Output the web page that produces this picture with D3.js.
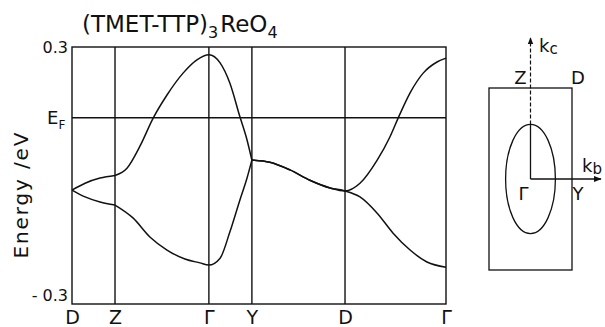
<!DOCTYPE html>
<html><head><meta charset="utf-8">
<script src="https://cdn.jsdelivr.net/npm/d3@7"></script>
<style>
body{margin:0;background:#fff;}
svg text{font-family:"DejaVu Sans",sans-serif;fill:#111;}
</style></head><body>
<svg id="c" width="605" height="327"></svg>
<script>
// ---- data ----
const kLabels = ["D", "Z", "Γ", "Y", "D", "Γ"];
const kPoints = [0, 0.115, 0.366, 0.481, 0.730, 1.0];
const yTicks = [0.3, -0.3];
const yTickLabels = ["0.3", "- 0.3"];
const fermiEnergy = 0.135;

const band1K = [0, 0.035, 0.075, 0.115, 0.147, 0.182, 0.217, 0.254, 0.297, 0.334, 0.366,
  0.396, 0.422, 0.449, 0.468, 0.481,
  0.529, 0.583, 0.636, 0.690, 0.730,
  0.770, 0.816, 0.850, 0.872, 0.904, 0.939, 0.976, 1.0];
const band1E = [-0.034, -0.018, -0.006, 0.000, 0.017, 0.069, 0.134, 0.188, 0.239, 0.270, 0.282,
  0.263, 0.216, 0.137, 0.083, 0.036,
  0.031, 0.013, -0.011, -0.029, -0.036,
  -0.018, 0.036, 0.090, 0.134, 0.193, 0.239, 0.265, 0.274];

const band2K = [0, 0.035, 0.075, 0.115, 0.163, 0.209, 0.254, 0.302, 0.342, 0.366,
  0.396, 0.422, 0.449, 0.468, 0.481,
  0.529, 0.583, 0.636, 0.690, 0.730,
  0.770, 0.816, 0.858, 0.904, 0.949, 1.0];
const band2E = [-0.034, -0.050, -0.062, -0.069, -0.099, -0.144, -0.174, -0.195, -0.204, -0.209,
  -0.193, -0.132, -0.057, -0.006, 0.036,
  0.031, 0.013, -0.011, -0.029, -0.036,
  -0.050, -0.088, -0.134, -0.174, -0.202, -0.214];

// inset: Brillouin zone (units of b*, c*) and Fermi surface semi-axes
const bzB = [-0.5, 0.5];
const bzC = [-0.5, 0.5];
const fsRadiusB = 0.30;
const fsRadiusC = 0.30;
const insetLabels = ["Z", "D", "Γ", "Y"];

// ---- layout ----
const svg = d3.select("#c");
const L = 72, R = 446, T = 47, B = 304;
const x = d3.scaleLinear().domain([0, 1]).range([L, R]);
const y = d3.scaleLinear().domain([-0.3, 0.3]).range([B, T]);
const sw = 1.4;

// frame
svg.append("rect").attr("x", L).attr("y", T).attr("width", R - L).attr("height", B - T)
  .attr("fill", "none").attr("stroke", "#111").attr("stroke-width", sw);

// vertical high-symmetry lines
svg.selectAll("line.v").data(kPoints.slice(1, -1)).join("line")
  .attr("x1", d => x(d)).attr("x2", d => x(d)).attr("y1", T).attr("y2", B)
  .attr("stroke", "#111").attr("stroke-width", sw);

// Fermi level
svg.append("line").attr("x1", L).attr("x2", R).attr("y1", y(fermiEnergy)).attr("y2", y(fermiEnergy))
  .attr("stroke", "#111").attr("stroke-width", sw);

// bands, drawn piecewise between kinks (Z and Y)
const breaks = [kPoints[0], kPoints[1], kPoints[3], kPoints[5]];
const line = d3.line().x(d => x(d[0])).y(d => y(d[1])).curve(d3.curveMonotoneX);
[[band1K, band1E], [band2K, band2E]].forEach(([ks, es]) => {
  const pts = ks.map((k, i) => [k, es[i]]);
  for (let i = 0; i < breaks.length - 1; i++) {
    const seg = pts.filter(p => p[0] >= breaks[i] - 1e-6 && p[0] <= breaks[i + 1] + 1e-6);
    svg.append("path").attr("d", line(seg)).attr("fill", "none")
      .attr("stroke", "#111").attr("stroke-width", 1.5);
  }
});

// x axis labels
const xAxis = d3.axisBottom(x).tickValues(kPoints).tickFormat((d, i) => kLabels[i]).tickSize(0).tickPadding(0);
const gx = svg.append("g").attr("transform", `translate(0,${B})`).call(xAxis);
gx.select(".domain").remove();
gx.selectAll("text").attr("font-size", 19).attr("dy", null).attr("y", 20)
  .style("font-family", '"DejaVu Sans",sans-serif').attr("fill", "#111");

// y axis labels
const yAxis = d3.axisLeft(y).tickValues(yTicks).tickFormat((d, i) => yTickLabels[i]).tickSize(0).tickPadding(4);
const gy = svg.append("g").attr("transform", `translate(${L},0)`).call(yAxis);
gy.select(".domain").remove();
gy.selectAll("text").attr("font-size", 16).style("font-family", '"DejaVu Sans",sans-serif').attr("fill", "#111")
  .attr("dy", d => d < 0 ? "-0.25em" : "0.35em");

// E_F label
const ef = svg.append("text").attr("x", 47).attr("y", y(fermiEnergy) + 6).attr("font-size", 18);
ef.append("tspan").text("E");
ef.append("tspan").attr("font-size", 12).attr("dy", 5).text("F");

// y axis title
svg.append("text").attr("transform", `translate(28,${(T + B) / 2 + 20}) rotate(-90)`)
  .attr("text-anchor", "middle").attr("font-size", 20).attr("textLength", 126).attr("lengthAdjust", "spacing")
  .text("Energy /eV");

// title
const tt = svg.append("text").attr("x", 82).attr("y", 32).attr("font-size", 23);
tt.append("tspan").text("(TMET-TTP)");
tt.append("tspan").attr("font-size", 16).attr("dy", 6).text("3");
tt.append("tspan").attr("dy", -6).attr("dx", 2).text("ReO");
tt.append("tspan").attr("font-size", 16).attr("dy", 6).text("4");

// ---- inset ----
const xi = d3.scaleLinear().domain(bzB).range([489, 572]);
const yi = d3.scaleLinear().domain(bzC).range([270, 88]);
svg.append("rect").attr("x", xi(bzB[0])).attr("y", yi(bzC[1]))
  .attr("width", xi(bzB[1]) - xi(bzB[0])).attr("height", yi(bzC[0]) - yi(bzC[1]))
  .attr("fill", "none").attr("stroke", "#111").attr("stroke-width", 1.3);
svg.append("ellipse").attr("cx", xi(0)).attr("cy", yi(0))
  .attr("rx", xi(fsRadiusB) - xi(0)).attr("ry", yi(0) - yi(fsRadiusC))
  .attr("fill", "none").attr("stroke", "#111").attr("stroke-width", 1.3);

svg.append("defs").append("marker").attr("id", "arr").attr("viewBox", "0 0 10 10")
  .attr("refX", 9).attr("refY", 5).attr("markerWidth", 6).attr("markerHeight", 6).attr("orient", "auto")
  .append("path").attr("d", "M0,1 L10,5 L0,9 Z").attr("fill", "#111");

// kc axis: dashed above Fermi surface, solid inside
svg.append("line").attr("x1", xi(0)).attr("x2", xi(0)).attr("y1", yi(fsRadiusC)).attr("y2", 38)
  .attr("stroke", "#111").attr("stroke-width", 1.2).attr("stroke-dasharray", "4,2")
  .attr("marker-end", "url(#arr)");
svg.append("line").attr("x1", xi(0)).attr("x2", xi(0)).attr("y1", yi(0)).attr("y2", yi(fsRadiusC))
  .attr("stroke", "#111").attr("stroke-width", 1.3);
// kb axis
svg.append("line").attr("x1", xi(0)).attr("x2", 601).attr("y1", yi(0)).attr("y2", yi(0))
  .attr("stroke", "#111").attr("stroke-width", 1.3).attr("marker-end", "url(#arr)");

const kc = svg.append("text").attr("x", 539).attr("y", 52).attr("font-size", 18);
kc.append("tspan").text("k");
kc.append("tspan").attr("font-size", 15).attr("dy", 2).text("c");
const kb = svg.append("text").attr("x", 582).attr("y", 172).attr("font-size", 18);
kb.append("tspan").text("k");
kb.append("tspan").attr("font-size", 15).attr("dy", 2).text("b");

svg.append("text").attr("x", xi(0) - 10).attr("y", yi(bzC[1]) - 4).attr("font-size", 18)
  .attr("text-anchor", "middle").text(insetLabels[0]);
svg.append("text").attr("x", xi(bzB[1]) + 6).attr("y", yi(bzC[1]) - 4).attr("font-size", 18)
  .attr("text-anchor", "middle").text(insetLabels[1]);
svg.append("text").attr("x", xi(0) - 7).attr("y", yi(0) + 21).attr("font-size", 18)
  .attr("text-anchor", "middle").text(insetLabels[2]);
svg.append("text").attr("x", xi(bzB[1]) + 6).attr("y", yi(0) + 21).attr("font-size", 18)
  .attr("text-anchor", "middle").text(insetLabels[3]);
</script></body></html>
